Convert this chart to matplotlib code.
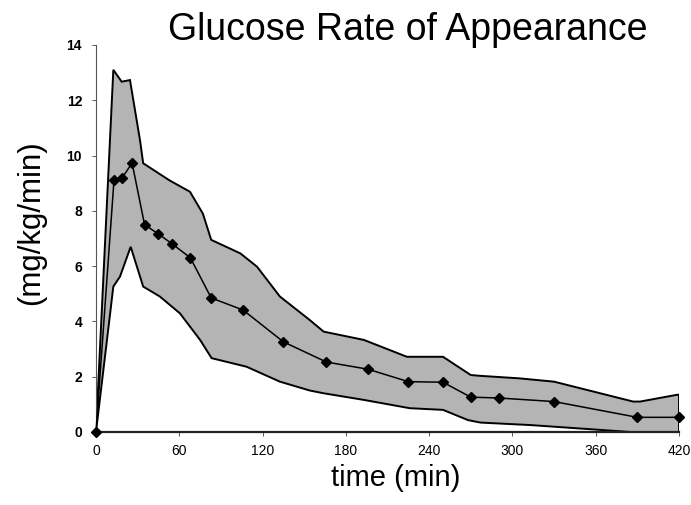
import matplotlib
matplotlib.use("Agg")
import matplotlib.pyplot as plt

# Mean glucose Ra
t_mean = [0, 13, 19, 26, 35, 45, 55, 68, 83, 106, 135, 166, 196, 225, 250, 270, 290, 330, 390, 420]
ra_mean = [0, 9.12, 9.2, 9.73, 7.5, 7.16, 6.8, 6.3, 4.85, 4.41, 3.26, 2.53, 2.27, 1.82, 1.80, 1.26, 1.23, 1.10, 0.53, 0.53]

# Upper band
t_upper = [0, 12.5, 18.5, 24.5, 31.7, 34, 53, 67.7, 77, 83, 104, 116, 132.5, 154, 164, 193, 224, 250, 270, 277, 305, 330, 387, 392, 418, 420]
ra_upper = [0, 13.1, 12.67, 12.73, 10.56, 9.72, 9.1, 8.69, 7.9, 6.95, 6.46, 5.98, 4.9, 4.05, 3.63, 3.33, 2.72, 2.72, 2.06, 2.03, 1.94, 1.82, 1.1, 1.1, 1.34, 1.35]

# Lower band
t_lower = [0, 12.5, 17.3, 25, 34, 46, 60.5, 75, 83.3, 108.5, 132.5, 154, 164, 193, 226, 250, 268, 277, 313, 385, 420]
ra_lower = [0, 5.26, 5.62, 6.7, 5.26, 4.9, 4.29, 3.33, 2.67, 2.36, 1.82, 1.5, 1.4, 1.16, 0.86, 0.8, 0.43, 0.34, 0.25, 0.0, 0.0]

x_ticks = [0, 60, 120, 180, 240, 300, 360, 420]
y_ticks = [0, 2, 4, 6, 8, 10, 12, 14]

fig = plt.figure(figsize=(6.91, 5.05), dpi=100)
ax = fig.add_axes([0.1389, 0.1446, 0.8437, 0.7664])

# band polygon
poly_x = list(t_upper) + list(reversed(t_lower))
poly_y = list(ra_upper) + list(reversed(ra_lower))
ax.fill(poly_x, poly_y, facecolor="#b4b4b4", edgecolor="black", linewidth=1.4, zorder=1)

ax.plot(t_mean, ra_mean, color="black", linewidth=1.1, marker="D", markersize=5.5,
        markerfacecolor="black", markeredgecolor="black", zorder=3, clip_on=False)

ax.set_xlim(0, 420)
ax.set_ylim(0, 14)
ax.set_xticks(x_ticks)
ax.set_yticks(y_ticks)
ax.set_xticklabels([str(v) for v in x_ticks], fontfamily="Liberation Sans", fontsize=10)
ax.set_yticklabels([str(v) for v in y_ticks], fontfamily="Liberation Sans", fontsize=10, fontweight="bold")

for s in ["top", "right"]:
    ax.spines[s].set_visible(False)
ax.spines["left"].set_color("#555555")
ax.spines["left"].set_linewidth(0.8)
ax.spines["bottom"].set_color("#222222")
ax.spines["bottom"].set_linewidth(1.6)
ax.tick_params(axis="y", direction="out", length=3, width=0.7, color="#555555", pad=7)
ax.tick_params(axis="x", direction="out", length=3, width=0.7, color="#555555", pad=6)

fig.text(0.59, 0.94, "Glucose Rate of Appearance", ha="center", va="center",
         fontfamily="Liberation Sans", fontsize=27)
fig.text(0.045, 0.56, "(mg/kg/min)", ha="center", va="center", rotation=90,
         fontfamily="Liberation Sans", fontsize=22.5)
fig.text(0.572, 0.053, "time (min)", ha="center", va="center",
         fontfamily="Liberation Sans", fontsize=21)

fig.savefig("out.png", dpi=100)
